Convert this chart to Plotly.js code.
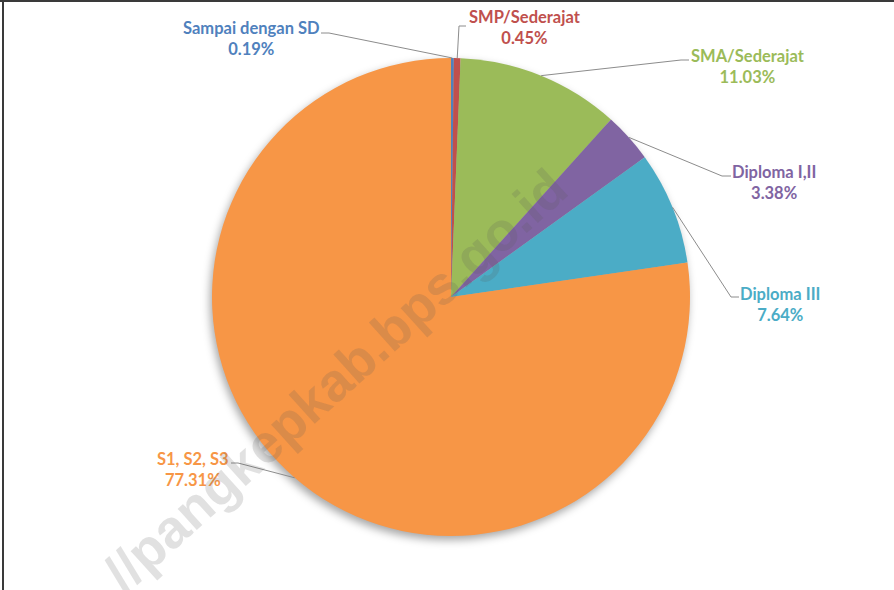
<!DOCTYPE html>
<html>
<head>
<meta charset="utf-8">
<script src="https://cdn.plot.ly/plotly-3.0.1.min.js"></script>
<style>
  html, body { margin: 0; padding: 0; background: #fff; }
  #chart { width: 894px; height: 590px; }
  .pielayer { filter: drop-shadow(-2px 4px 4px rgba(0,0,0,0.35)); }
</style>
</head>
<body>
<div id="chart"></div>
<script>
// ---- data ----
const categories = ["Sampai dengan SD", "SMP/Sederajat", "SMA/Sederajat", "Diploma I,II", "Diploma III", "S1, S2, S3"];
const values = [0.19, 0.45, 11.03, 3.38, 7.64, 77.31];
const colors = ["#4F81BD", "#C0504D", "#9BBB59", "#8064A2", "#4BACC6", "#F79646"];
const watermark = "//pangkepkab.bps.go.id";

// ---- layout constants (pixels) ----
const W = 894, H = 590;
const CX = 451, CY = 297, R = 239;
// label block centers and leader stubs [labelX, labelY, stubStartX, stubEndX, stubY]
const labelPos = [
  [251, 39, 321, 329, 33],
  [525, 27, 466, 459, 26],
  [748, 66, 689, 681, 60],
  [774, 182, 731, 722, 176],
  [780, 304, 739, 731, 297],
  [193, 469, 231, 238, 463]
];

const px = x => x / W;
const py = y => 1 - y / H;

const total = values.reduce((a, b) => a + b, 0);
let cum = 0;
const shapes = [];
const annotations = [];
values.forEach((v, i) => {
  const midFrac = (cum + v / 2) / total;
  cum += v;
  const ang = midFrac * 2 * Math.PI;
  const ex = CX + R * Math.sin(ang);
  const ey = CY - R * Math.cos(ang);
  const [lx, ly, sx0, sx1, sy] = labelPos[i];
  const lineStyle = { color: "#8c8c8c", width: 1 };
  shapes.push({ type: "line", xref: "paper", yref: "paper", x0: px(sx0), y0: py(sy), x1: px(sx1), y1: py(sy), line: lineStyle });
  shapes.push({ type: "line", xref: "paper", yref: "paper", x0: px(sx1), y0: py(sy), x1: px(ex), y1: py(ey), line: lineStyle });
  annotations.push({
    xref: "paper", yref: "paper", x: px(lx), y: py(ly),
    xanchor: "center", yanchor: "middle", showarrow: false,
    text: "<b>" + categories[i] + "<br>" + v.toFixed(2) + "%</b>",
    font: { family: "Lato, 'Open Sans', sans-serif", size: 16.5, color: colors[i] },
    align: "center"
  });
});

// frame lines
shapes.push({ type: "line", xref: "paper", yref: "paper", x0: 0, y0: py(1), x1: 1, y1: py(1), line: { color: "#3a3a3a", width: 2 } });
shapes.push({ type: "line", xref: "paper", yref: "paper", x0: px(3), y0: 0, x1: px(3), y1: 1, line: { color: "#3a3a3a", width: 2 } });

// watermark
annotations.push({
  xref: "paper", yref: "paper", x: px(335), y: py(380),
  xanchor: "center", yanchor: "middle", showarrow: false,
  text: "<b>" + watermark + "</b>", textangle: -42,
  font: { family: "Liberation Sans, Arial, sans-serif", size: 54, color: "rgba(90,90,90,0.18)" }
});

const trace = {
  type: "pie",
  labels: categories,
  values: values,
  marker: { colors: colors, line: { width: 0 } },
  sort: false,
  direction: "clockwise",
  rotation: 0,
  textinfo: "none",
  hoverinfo: "label+percent",
  showlegend: false,
  domain: { x: [px(CX - R), px(CX + R)], y: [py(CY + R), py(CY - R)] }
};

const layout = {
  width: W, height: H,
  margin: { l: 0, r: 0, t: 0, b: 0 },
  paper_bgcolor: "#ffffff",
  showlegend: false,
  shapes: shapes,
  annotations: annotations
};

Plotly.newPlot("chart", [trace], layout, { displayModeBar: false, staticPlot: true });
</script>
</body>
</html>
